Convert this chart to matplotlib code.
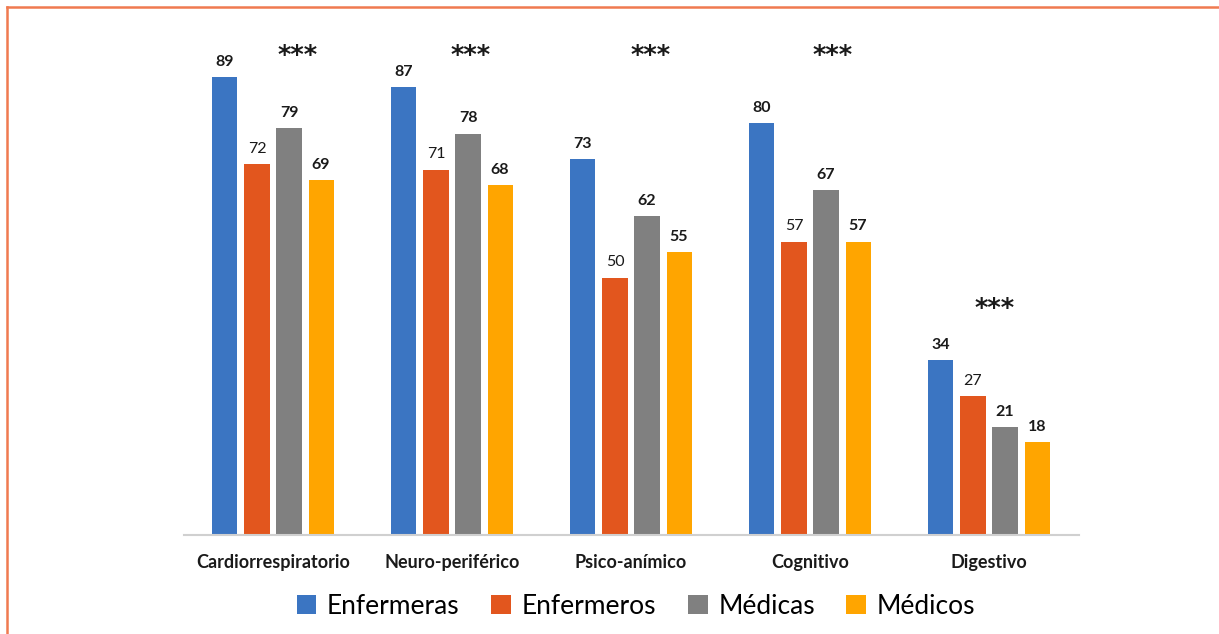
import matplotlib.pyplot as plt
import numpy as np
from matplotlib.lines import Line2D

categorias = ["Cardiorrespiratorio", "Neuro-periférico", "Psico-anímico", "Cognitivo", "Digestivo"]
grupos = ["Enfermeras", "Enfermeros", "Médicas", "Médicos"]
enfermeras = [89, 87, 73, 80, 34]
enfermeros = [72, 71, 50, 57, 27]
medicas = [79, 78, 62, 67, 21]
medicos = [69, 68, 55, 57, 18]
estrellas = ["***", "***", "***", "***", "***"]
estrellas_y = [91.6, 91.6, 91.6, 91.6, 42.4]
estrellas_dx = [0.14, 0.105, 0.11, 0.125, 0.03]

colores = ["#3B75C2", "#E2561E", "#808080", "#FFA500"]
negrita = ["bold", "normal", "bold", "bold"]

plt.rcParams['font.family'] = ['Lato', 'DejaVu Sans']

fig = plt.figure(figsize=(12.19, 6.34), dpi=100)
ax = fig.add_axes([183.5 / 1219, 1 - 535 / 634, 895 / 1219, 514.6 / 634])

x = np.arange(len(categorias))
paso = 0.179
ancho = 0.14
series = [enfermeras, enfermeros, medicas, medicos]
for k, valores in enumerate(series):
    pos = x + (k - 1.5) * paso
    ax.bar(pos, valores, ancho, color=colores[k], label=grupos[k], zorder=2)
    for p, v in zip(pos, valores):
        ax.text(p, v + 1.6, str(v), ha="center", va="bottom", fontsize=11.5,
                fontweight=negrita[k], color="#1a1a1a")

for i, s in enumerate(estrellas):
    ax.text(x[i] + estrellas_dx[i], estrellas_y[i], s, ha="center", va="baseline", fontsize=18.5,
            fontweight="bold", color="#1a1a1a", family="DejaVu Sans")

ax.set_xlim(-0.5, 4.5)
ax.set_ylim(0, 100)
ax.set_yticks([])
ax.set_xticks(x)
ax.set_xticklabels(categorias, fontsize=13, fontweight="bold", color="#1a1a1a")
ax.tick_params(axis="x", length=0, pad=14)
for lado in ["top", "right", "left"]:
    ax.spines[lado].set_visible(False)
ax.spines["bottom"].set_color("#D0D0D0")
ax.spines["bottom"].set_linewidth(1.5)

ax.legend(loc="center", bbox_to_anchor=(636 / 1219, 1 - 606 / 634), bbox_transform=fig.transFigure,
          ncol=4, frameon=False, fontsize=19, handlelength=0.75, handleheight=0.75,
          handletextpad=0.4, columnspacing=1.2)

# marco naranja
fig.add_artist(Line2D([7 / 1219, 1], [1 - 6.5 / 634, 1 - 6.5 / 634], color="#F07A50", lw=1.8, transform=fig.transFigure))
fig.add_artist(Line2D([7 / 1219, 7 / 1219], [0, 1 - 6.5 / 634], color="#F07A50", lw=1.8, transform=fig.transFigure))

fig.savefig("out.png", dpi=100)
